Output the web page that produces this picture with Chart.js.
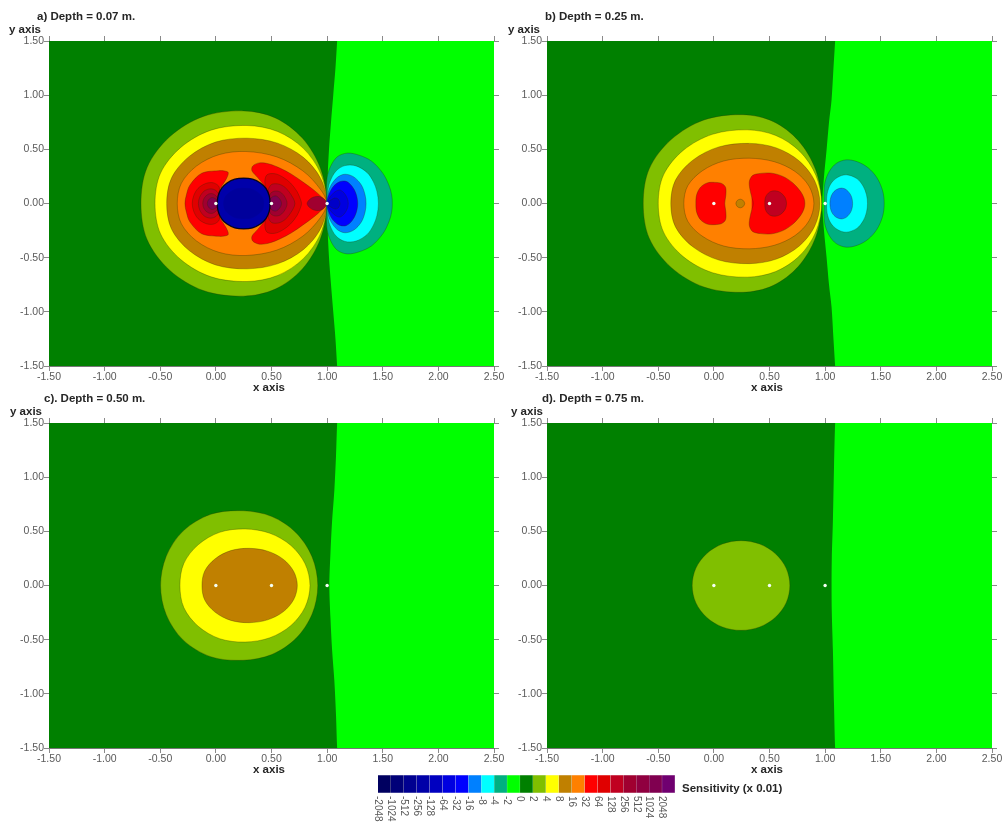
<!DOCTYPE html>
<html>
<head>
<meta charset="utf-8">
<title>Sensitivity maps</title>
<script src="https://cdn.jsdelivr.net/npm/chart.js@4"></script>
<style>
  html, body { margin: 0; padding: 0; background: #fff; overflow: hidden; width: 1002px; height: 823px; }
  canvas { position: absolute; filter: blur(0.35px); }
  #pa { left: 0; top: 0; }
  #pb { left: 498px; top: 0; }
  #pc { left: 0; top: 382px; }
  #pd { left: 498px; top: 382px; }
  #bar { left: 360px; top: 765px; }
</style>
</head>
<body>
<canvas id="pa" width="510" height="400"></canvas>
<canvas id="pb" width="510" height="400"></canvas>
<canvas id="pc" width="510" height="400"></canvas>
<canvas id="pd" width="510" height="400"></canvas>
<canvas id="bar" width="440" height="58"></canvas>
<script>
const tickX = [-1.5, -1, -0.5, 0, 0.5, 1, 1.5, 2, 2.5];
const tickY = [-1.5, -1, -0.5, 0, 0.5, 1, 1.5];
const electrodes = [[0, 0], [0.5, 0], [1, 0]];

// colour scale, label sits on the left edge of its box
const scaleLabels = ["-2048", "-1024", "-512", "-256", "-128", "-64", "-32", "-16", "-8", "-4", "-2", "0", "2", "4", "8", "16", "32", "64", "128", "256", "512", "1024", "2048"];
const scaleColors = ["#000060", "#000078", "#000090", "#0000a8", "#0000c0", "#0000e0", "#0000ff", "#0080ff", "#00ffff", "#00b080", "#00ff00", "#008000", "#80bf00", "#ffff00", "#c08000", "#ff8000", "#ff0000", "#e00000", "#c00020", "#a00030", "#900040", "#800050", "#700070"];

const navy = "#0000aa", navy2 = "#00009c", blue1 = "#0000c8", blue2 = "#0000e0", blue3 = "#0000ff", skyblue = "#0080ff", cyan = "#00ffff", teal = "#00b080";
const lime = "#00ff00", forest = "#008000", olive = "#80bf00", yellow = "#ffff00", brown = "#c08000", orange = "#ff8000";
const red1 = "#ff0000", red2 = "#e00000", red3 = "#c00020", red4 = "#a00030", red5 = "#800050";

// contours, upper half only (x, y), the maps are symmetric about y = 0
// panel a
const aLime = [[1.09, 1.5], [1.075, 1.25], [1.055, 1], [1.035, 0.75], [1.017, 0.5], [1.005, 0.25], [1, 0]];
const aOlive = [[-0.673, 0], [-0.618, 0.333], [-0.415, 0.616], [-0.112, 0.804], [0.247, 0.855], [0.534, 0.79], [0.777, 0.604], [0.939, 0.327], [0.996, 0]];
const aYellow = [[-0.547, 0], [-0.497, 0.281], [-0.315, 0.518], [-0.043, 0.677], [0.28, 0.72], [0.554, 0.665], [0.786, 0.509], [0.942, 0.276], [0.996, 0]];
const aBrown = [[-0.442, 0], [-0.399, 0.235], [-0.24, 0.434], [-0.002, 0.567], [0.28, 0.603], [0.554, 0.557], [0.786, 0.426], [0.942, 0.231], [0.996, 0]];
const aOrange = [[-0.347, 0], [-0.31, 0.187], [-0.174, 0.346], [0.029, 0.451], [0.27, 0.48], [0.548, 0.43], [0.783, 0.3], [0.94, 0.13], [0.996, 0]];
const aRedL = [[-0.278, 0], [-0.265, 0.08], [-0.233, 0.171], [-0.128, 0.279], [0.022, 0.303], [0.08, 0.3], [0.112, 0.284], [0.09, 0.22], [0.04, 0.14], [0.01, 0.07], [0, 0]];
const aRed2L = [[-0.212, 0], [-0.2, 0.07], [-0.16, 0.14], [-0.09, 0.185], [-0.02, 0.19], [0.03, 0.15], [0.03, 0]];
const aRed3L = [[-0.157, 0], [-0.145, 0.06], [-0.105, 0.115], [-0.05, 0.135], [0, 0.12], [0.03, 0.07], [0.03, 0]];
const aRed4L = [[-0.118, 0], [-0.105, 0.05], [-0.07, 0.085], [-0.03, 0.09], [0.01, 0.06], [0.03, 0]];
const aRed5L = [[-0.077, 0], [-0.065, 0.035], [-0.035, 0.055], [0, 0.04], [0.03, 0]];
const aRedR = [[0.996, 0], [0.95, 0.06], [0.88, 0.125], [0.78, 0.2], [0.68, 0.27], [0.58, 0.325], [0.48, 0.365], [0.39, 0.375], [0.33, 0.345], [0.325, 0.3], [0.38, 0.235], [0.44, 0.15], [0.47, 0]];
const aRed2R = [[0.47, 0], [0.46, 0.1], [0.44, 0.2], [0.46, 0.265], [0.53, 0.275], [0.6, 0.245], [0.67, 0.19], [0.73, 0.11], [0.76, 0.04], [0.77, 0]];
const aRed3R = [[0.47, 0], [0.47, 0.12], [0.5, 0.175], [0.56, 0.18], [0.62, 0.15], [0.67, 0.09], [0.71, 0]];
const aRed4R = [[0.47, 0], [0.49, 0.09], [0.53, 0.115], [0.58, 0.105], [0.62, 0.06], [0.64, 0]];
const aRed5R = [[0.47, 0], [0.5, 0.055], [0.54, 0.07], [0.575, 0.04], [0.59, 0]];
const aRedTip = [[0.82, 0], [0.84, 0.035], [0.88, 0.06], [0.93, 0.065], [0.97, 0.045], [1, 0]];
const aNavy = [[0.013, 0], [0.02, 0.07], [0.05, 0.14], [0.1, 0.19], [0.17, 0.225], [0.25, 0.235], [0.33, 0.225], [0.4, 0.19], [0.45, 0.14], [0.48, 0.07], [0.487, 0]];
const aNavy2 = [[0.07, 0], [0.09, 0.07], [0.17, 0.13], [0.25, 0.14], [0.33, 0.13], [0.41, 0.07], [0.43, 0]];
const aTeal = [[0.996, 0], [0.993, 0.12], [1, 0.24], [1.03, 0.34], [1.09, 0.43], [1.18, 0.465], [1.29, 0.445], [1.4, 0.39], [1.5, 0.28], [1.555, 0.17], [1.58, 0.08], [1.586, 0]];
const aCyan = [[0.996, 0], [1.003, 0.1], [1.025, 0.2], [1.08, 0.3], [1.16, 0.35], [1.26, 0.347], [1.36, 0.285], [1.416, 0.2], [1.448, 0.11], [1.461, 0]];
const aSky = [[0.996, 0], [1.005, 0.08], [1.03, 0.16], [1.09, 0.24], [1.16, 0.27], [1.24, 0.245], [1.308, 0.17], [1.341, 0.08], [1.35, 0]];
const aBlue3 = [[0.996, 0], [1.01, 0.07], [1.05, 0.15], [1.11, 0.2], [1.17, 0.205], [1.224, 0.16], [1.26, 0.09], [1.275, 0]];
const aBlue2 = [[0.996, 0], [1.02, 0.05], [1.06, 0.1], [1.11, 0.125], [1.15, 0.1], [1.18, 0.05], [1.19, 0]];
const aBlue1 = [[0.996, 0], [1.03, 0.03], [1.07, 0.05], [1.1, 0.04], [1.115, 0]];
// panel b
const bLime = [[1.09, 1.5], [1.075, 1.25], [1.058, 0.957], [1.035, 0.75], [1.013, 0.495], [0.99, 0.25], [0.975, 0]];
const bOlive = [[-0.635, 0], [-0.581, 0.32], [-0.384, 0.59], [-0.089, 0.771], [0.26, 0.82], [0.531, 0.758], [0.76, 0.58], [0.914, 0.314], [0.968, 0]];
const bYellow = [[-0.5, 0], [-0.452, 0.265], [-0.276, 0.49], [-0.012, 0.639], [0.3, 0.68], [0.556, 0.628], [0.772, 0.481], [0.917, 0.26], [0.968, 0]];
const bBrown = [[-0.387, 0], [-0.345, 0.216], [-0.189, 0.4], [0.044, 0.522], [0.32, 0.555], [0.562, 0.513], [0.768, 0.392], [0.905, 0.212], [0.953, 0]];
const bOrange = [[-0.27, 0], [-0.235, 0.163], [-0.105, 0.301], [0.09, 0.393], [0.32, 0.418], [0.542, 0.386], [0.729, 0.296], [0.855, 0.16], [0.899, 0]];
const bRedL = [[-0.162, 0], [-0.155, 0.08], [-0.12, 0.15], [-0.06, 0.19], [0.01, 0.195], [0.07, 0.185], [0.105, 0.15], [0.108, 0.08], [0.098, 0]];
const bRedR = [[0.354, 0], [0.34, 0.06], [0.322, 0.14], [0.32, 0.21], [0.35, 0.26], [0.42, 0.278], [0.52, 0.28], [0.62, 0.25], [0.71, 0.19], [0.78, 0.11], [0.81, 0.05], [0.818, 0]];
const bRed2 = [[0.458, 0], [0.465, 0.06], [0.5, 0.105], [0.55, 0.117], [0.6, 0.1], [0.64, 0.055], [0.653, 0]];
const bDot = [[0.198, 0], [0.21, 0.028], [0.237, 0.04], [0.264, 0.028], [0.277, 0]];
const bTeal = [[0.992, 0], [0.99, 0.1], [1, 0.2], [1.04, 0.3], [1.1, 0.37], [1.19, 0.403], [1.29, 0.385], [1.386, 0.33], [1.464, 0.24], [1.516, 0.12], [1.531, 0]];
const bCyan = [[1.013, 0], [1.018, 0.09], [1.05, 0.18], [1.11, 0.24], [1.19, 0.265], [1.285, 0.23], [1.342, 0.16], [1.372, 0.08], [1.381, 0]];
const bSky = [[1.043, 0], [1.055, 0.07], [1.09, 0.12], [1.145, 0.142], [1.193, 0.125], [1.234, 0.07], [1.247, 0]];
// panel c
const cLime = [[1.09, 1.5], [1.08, 1.2], [1.065, 0.88], [1.045, 0.6], [1.03, 0.3], [1.02, 0]];
const cOlive = [[-0.497, 0], [-0.447, 0.267], [-0.295, 0.502], [-0.046, 0.657], [0.247, 0.69], [0.503, 0.637], [0.72, 0.488], [0.865, 0.264], [0.916, 0]];
const cYellow = [[-0.323, 0], [-0.288, 0.204], [-0.159, 0.376], [0.034, 0.491], [0.262, 0.522], [0.486, 0.482], [0.675, 0.369], [0.802, 0.2], [0.846, 0]];
const cBrown = [[-0.125, 0], [-0.1, 0.134], [-0.006, 0.247], [0.134, 0.322], [0.3, 0.343], [0.465, 0.317], [0.605, 0.243], [0.699, 0.131], [0.732, 0]];
// panel d
const dLime = [[1.09, 1.5], [1.08, 1.1], [1.07, 0.6], [1.06, 0.25], [1.058, 0]];
const dOlive = [[-0.195, 0], [-0.162, 0.159], [-0.066, 0.293], [0.076, 0.383], [0.244, 0.414], [0.412, 0.383], [0.554, 0.293], [0.65, 0.159], [0.683, 0]];

const font = "Liberation Sans, Arial, sans-serif";
const lineCol = "rgba(45,45,0,0.5)";

function toPts(list) {
  return list.map(p => ({ x: p[0], y: p[1] }));
}

// whole outline from the upper half, overlapping by one point so the spline has no kink at the join
function outline(upper) {
  const low = upper.slice(0, -1).reverse().map(p => [p[0], -p[1]]);
  const body = upper.concat(low);
  body.unshift([upper[1][0], -upper[1][1]]);
  body.push(upper[1]);
  return toPts(body);
}

// one dataset for the fill, one for the line; the line skips the two overlap segments
function contour(upper, color, line, width) {
  const pts = outline(upper);
  const last = pts.length - 1;
  return [{
    data: pts, showLine: true, fill: "shape", tension: 0.33, pointRadius: 0,
    backgroundColor: color, borderWidth: 0
  }, {
    data: pts, showLine: true, fill: false, tension: 0.33, pointRadius: 0,
    borderColor: line || lineCol, borderWidth: width || 0.6,
    segment: { borderColor: c => (c.p0DataIndex === 0 || c.p1DataIndex === last) ? "transparent" : undefined }
  }];
}

// right side of the zero line, ends run past the plot edges so the spline stays clean inside
function limeSide(upper) {
  const low = upper.slice(0, -1).reverse().map(p => [p[0], -p[1]]);
  const pts = [[1.105, 1.75]].concat(upper, low, [[1.105, -1.75], [3.5, -2.5], [3.5, 2.5], [1.105, 1.75]]);
  return {
    data: toPts(pts), showLine: true, fill: "shape", tension: 0.3,
    pointRadius: 0, backgroundColor: lime, borderWidth: 0, borderColor: lime
  };
}

// background and the panel texts that have no place in a Chart.js axis
const panelTextPlugin = {
  id: "panelText",
  beforeDatasetsDraw(chart) {
    const a = chart.chartArea, ctx = chart.ctx;
    ctx.save();
    ctx.fillStyle = forest;
    ctx.fillRect(a.left, a.top, a.right - a.left, a.bottom - a.top);
    ctx.restore();
  },
  afterDraw(chart, args, opts) {
    const ctx = chart.ctx;
    ctx.save();
    ctx.fillStyle = "#262626";
    ctx.font = "bold 11.5px " + font;
    ctx.textBaseline = "middle";
    ctx.textAlign = "left";
    ctx.fillText(opts.title, opts.titleX, 17);
    ctx.fillText("y axis", opts.yLabelX, 30);
    ctx.textAlign = "center";
    ctx.fillText("x axis", 269, 388);
    ctx.restore();
  }
};

function panel(id, title, titleX, yLabelX, limeEdge, layers) {
  const ds = [{
    data: toPts(electrodes), pointRadius: 1.7, pointBackgroundColor: "#f4fff4", pointBorderWidth: 0, showLine: false
  }];
  // first dataset is drawn last in Chart.js, so the list goes in reverse
  layers.flat().reverse().forEach(l => ds.push(l));
  ds.push(limeSide(limeEdge));
  const edge = { color: "#8a8a8a", drawOnChartArea: false, tickLength: 5, tickColor: "#8a8a8a" };
  const tickFont = { family: font, size: 10.5 };
  new Chart(document.getElementById(id), {
    type: "scatter",
    data: { datasets: ds },
    options: {
      responsive: false,
      animation: false,
      events: [],
      layout: { padding: { top: 36, right: 11, left: 0, bottom: 0 } },
      plugins: {
        legend: { display: false }, tooltip: { enabled: false },
        panelText: { title: title, titleX: titleX, yLabelX: yLabelX }
      },
      scales: {
        x: {
          min: -1.5, max: 2.5, position: "bottom", grid: edge, border: { color: "#777", width: 1 },
          afterBuildTicks: s => { s.ticks = tickX.map(v => ({ value: v })); },
          afterFit: s => { s.height = 34; },
          ticks: { color: "#5a5a5a", font: tickFont, padding: 0, maxRotation: 0, autoSkip: false, callback: v => v.toFixed(2) }
        },
        xTop: {
          type: "linear", axis: "x", min: -1.5, max: 2.5, position: "top", grid: edge, border: { display: false },
          afterBuildTicks: s => { s.ticks = tickX.map(v => ({ value: v })); },
          afterFit: s => { s.height = 5; },
          ticks: { display: false }
        },
        y: {
          min: -1.5, max: 1.5, position: "left", grid: edge, border: { color: "#777", width: 1 },
          afterBuildTicks: s => { s.ticks = tickY.map(v => ({ value: v })); },
          afterFit: s => { s.width = 49; },
          ticks: { color: "#5a5a5a", font: tickFont, padding: 0, autoSkip: false, callback: v => v.toFixed(2) }
        },
        yRight: {
          type: "linear", axis: "y", min: -1.5, max: 1.5, position: "right", grid: edge, border: { display: false },
          afterBuildTicks: s => { s.ticks = tickY.map(v => ({ value: v })); },
          afterFit: s => { s.width = 5; },
          ticks: { display: false }
        }
      }
    },
    plugins: [panelTextPlugin]
  });
}

panel("pa", "a) Depth = 0.07 m.", 37, 9, aLime, [
  contour(aOlive, olive), contour(aYellow, yellow), contour(aBrown, brown), contour(aOrange, orange),
  contour(aRedL, red1), contour(aRed2L, red2), contour(aRed3L, red3), contour(aRed4L, red4), contour(aRed5L, red5),
  contour(aRedR, red1), contour(aRed2R, red2), contour(aRed3R, red3), contour(aRed4R, red4), contour(aRed5R, red5),
  contour(aRedTip, red4), contour(aNavy, navy, "rgba(0,0,20,0.9)", 1.3), contour(aNavy2, navy2, navy2),
  contour(aTeal, teal), contour(aCyan, cyan), contour(aSky, skyblue), contour(aBlue3, blue3), contour(aBlue2, blue2), contour(aBlue1, blue1)
]);

panel("pb", "b) Depth = 0.25 m.", 47, 10, bLime, [
  contour(bOlive, olive), contour(bYellow, yellow), contour(bBrown, brown), contour(bOrange, orange),
  contour(bRedL, red1), contour(bRedR, red1), contour(bRed2, red3), contour(bDot, brown),
  contour(bTeal, teal), contour(bCyan, cyan), contour(bSky, skyblue)
]);

panel("pc", "c). Depth = 0.50 m.", 44, 10, cLime, [
  contour(cOlive, olive), contour(cYellow, yellow), contour(cBrown, brown)
]);

panel("pd", "d). Depth = 0.75 m.", 44, 13, dLime, [
  contour(dOlive, olive)
]);

// colour bar
const barTextPlugin = {
  id: "barText",
  afterDraw(chart) {
    const ctx = chart.ctx, sx = chart.scales.x, a = chart.chartArea;
    ctx.save();
    ctx.fillStyle = "#5a5a5a";
    ctx.font = "10px " + font;
    ctx.textBaseline = "middle";
    ctx.textAlign = "left";
    scaleLabels.forEach((t, i) => {
      ctx.save();
      ctx.translate(sx.getPixelForValue(i), a.bottom + 3);
      ctx.rotate(Math.PI / 2);
      ctx.fillText(t, 0, 0);
      ctx.restore();
    });
    ctx.restore();
    ctx.save();
    ctx.fillStyle = "#262626";
    ctx.font = "bold 11.5px " + font;
    ctx.textBaseline = "middle";
    ctx.fillText("Sensitivity (x 0.01)", a.right + 7, 24);
    ctx.restore();
  }
};

new Chart(document.getElementById("bar"), {
  type: "bar",
  data: {
    labels: ["scale"],
    datasets: scaleColors.map(c => ({
      data: [1], backgroundColor: c, borderColor: "rgba(0,0,0,0.08)", borderWidth: 0.5,
      barPercentage: 1, categoryPercentage: 1
    }))
  },
  options: {
    indexAxis: "y",
    responsive: false,
    animation: false,
    events: [],
    layout: { padding: { left: 18, right: 125, top: 10, bottom: 30 } },
    plugins: { legend: { display: false }, tooltip: { enabled: false } },
    scales: {
      x: { stacked: true, min: 0, max: scaleColors.length, display: false },
      y: { stacked: true, display: false }
    }
  },
  plugins: [barTextPlugin]
});
</script>
</body>
</html>
